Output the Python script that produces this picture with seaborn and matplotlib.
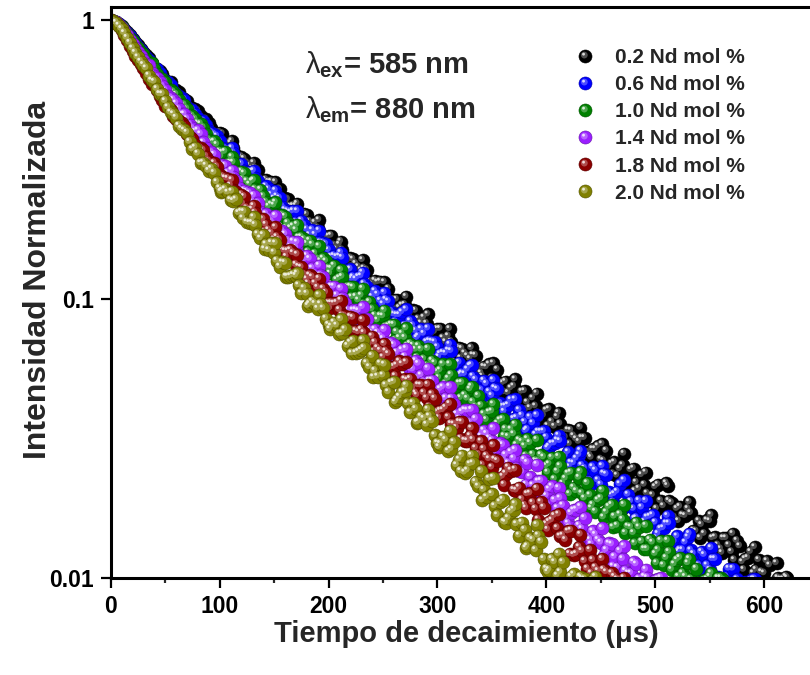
import matplotlib
matplotlib.use("Agg")
import numpy as np
import pandas as pd
import matplotlib.pyplot as plt
import matplotlib.colors as mcolors
import seaborn as sns
from matplotlib.path import Path
from matplotlib.lines import Line2D
from matplotlib.legend_handler import HandlerTuple
from matplotlib.ticker import MultipleLocator, NullLocator

# ---------------- data ----------------
# samples on the full-step grid
time_us = [0, 5, 10, 15, 20, 25, 30, 35, 40, 45, 50, 55, 60, 65, 70, 75, 80, 85, 90, 95,
           100, 105, 110, 115, 120, 125, 130, 135, 140, 145, 150, 155, 160, 165, 170, 175,
           180, 185, 190, 195, 200, 205, 210, 215, 220, 225, 230, 235, 240, 245, 250, 255,
           260, 265, 270, 275, 280, 285, 290, 295, 300, 305, 310, 315, 320, 325, 330, 335,
           340, 345, 350, 355, 360, 365, 370, 375, 380, 385, 390, 395, 400, 405, 410, 415,
           420, 425, 430, 435, 440, 445, 450, 455, 460, 465, 470, 475, 480, 485, 490, 495,
           500, 505, 510, 515, 520, 525, 530, 535, 540, 545, 550, 555, 560, 565, 570, 575,
           580, 585, 590, 595, 600, 605, 610, 615, 620, 625]
# samples on the half-step grid
time_half_us = [2.5, 7.5, 12.5, 17.5, 22.5, 27.5, 32.5, 37.5, 42.5, 47.5, 52.5, 57.5, 62.5,
                67.5, 72.5, 77.5, 82.5, 87.5, 92.5, 97.5, 102.5, 107.5, 112.5, 117.5, 122.5,
                127.5, 132.5, 137.5, 142.5, 147.5, 152.5, 157.5, 162.5, 167.5, 172.5, 177.5,
                182.5, 187.5, 192.5, 197.5, 202.5, 207.5, 212.5, 217.5, 222.5, 227.5, 232.5,
                237.5, 242.5, 247.5, 252.5, 257.5, 262.5, 267.5, 272.5, 277.5, 282.5, 287.5,
                292.5, 297.5, 302.5, 307.5, 312.5, 317.5, 322.5, 327.5, 332.5, 337.5, 342.5,
                347.5, 352.5, 357.5, 362.5, 367.5, 372.5, 377.5, 382.5, 387.5, 392.5, 397.5,
                402.5, 407.5, 412.5, 417.5, 422.5, 427.5, 432.5, 437.5, 442.5, 447.5, 452.5,
                457.5, 462.5, 467.5, 472.5, 477.5, 482.5, 487.5, 492.5, 497.5, 502.5, 507.5,
                512.5, 517.5, 522.5, 527.5, 532.5, 537.5, 542.5, 547.5, 552.5, 557.5, 562.5,
                567.5, 572.5, 577.5, 582.5, 587.5, 592.5, 597.5, 602.5, 607.5, 612.5, 617.5,
                622.5]
# scattered (outer) samples of the noisy tail
time_spread_us = [101.25, 111.25, 121.25, 131.25, 141.25, 151.25, 161.25, 171.25, 181.25,
                  191.25, 201.25, 211.25, 221.25, 231.25, 241.25, 251.25, 261.25, 271.25,
                  281.25, 291.25, 301.25, 311.25, 321.25, 331.25, 341.25, 351.25, 361.25,
                  371.25, 381.25, 391.25, 401.25, 411.25, 421.25, 431.25, 441.25, 451.25,
                  461.25, 471.25, 481.25, 491.25, 501.25, 511.25, 521.25, 531.25, 541.25,
                  551.25, 561.25, 571.25, 581.25, 591.25, 601.25, 611.25, 621.25]

series_labels = ["0.2 Nd mol %", "0.6 Nd mol %", "1.0 Nd mol %",
                 "1.4 Nd mol %", "1.8 Nd mol %", "2.0 Nd mol %"]
series_colors = ["#000000", "#0000FF", "#008000", "#9A1EFF", "#8B0000", "#808000"]

nd_02 = [1.0, 0.989, 0.955, 0.912, 0.861, 0.814, 0.769, 0.733, 0.678, 0.656, 0.611, 0.600,
         0.561, 0.528, 0.516, 0.485, 0.474, 0.441, 0.427, 0.399, 0.396, 0.366, 0.363, 0.329,
         0.324, 0.308, 0.294, 0.291, 0.264, 0.2637, 0.246, 0.248, 0.230, 0.215, 0.216, 0.200,
         0.201, 0.183, 0.180, 0.166, 0.168, 0.156, 0.157, 0.141, 0.1405, 0.134, 0.127, 0.1272,
         0.113, 0.115, 0.106, 0.109, 0.0995, 0.0931, 0.0955, 0.0886, 0.0909, 0.0820, 0.0818,
         0.0751, 0.0782, 0.0725, 0.0737, 0.0664, 0.0669, 0.0640, 0.0610, 0.0628, 0.0543,
         0.0570, 0.0521, 0.0559, 0.0500, 0.0461, 0.0487, 0.0442, 0.0468, 0.0407, 0.0413,
         0.0370, 0.0399, 0.0363, 0.0378, 0.0329, 0.0339, 0.0323, 0.0308, 0.0318, 0.0275,
         0.0290, 0.0266, 0.0286, 0.0257, 0.0233, 0.0254, 0.0226, 0.0247, 0.0209, 0.0216,
         0.0189, 0.0212, 0.0189, 0.0219, 0.0186, 0.0177, 0.0168, 0.0177, 0.0148, 0.0160,
         0.0144, 0.0160, 0.0140, 0.0127, 0.0139, 0.0124, 0.0136, 0.0114, 0.0118, 0.0104,
         0.0116, 0.0104, 0.0111, 0.0094, 0.0099, 0.0101]
nd_02_half = [0.995, 0.975, 0.935, 0.887, 0.837, 0.792, 0.752, 0.705, 0.672, 0.645, 0.598,
              0.568, 0.552, 0.524, 0.491, 0.483, 0.454, 0.442, 0.412, 0.393, 0.392, 0.354,
              0.348, 0.320, 0.319, 0.301, 0.295, 0.270, 0.268, 0.264, 0.242, 0.230, 0.228,
              0.216, 0.200, 0.203, 0.190, 0.188, 0.173, 0.167, 0.169, 0.151, 0.150, 0.137,
              0.139, 0.1305, 0.129, 0.116, 0.1165, 0.1157, 0.1045, 0.0989, 0.0997, 0.0950,
              0.0877, 0.0912, 0.0849, 0.0859, 0.0782, 0.0763, 0.0783, 0.0702, 0.0704, 0.0647,
              0.0664, 0.0625, 0.0630, 0.0556, 0.0572, 0.0584, 0.0516, 0.0489, 0.0506, 0.0479,
              0.0432, 0.0466, 0.0426, 0.0441, 0.0390, 0.0382, 0.0403, 0.0349, 0.0357, 0.0319,
              0.0338, 0.0315, 0.0318, 0.0282, 0.0290, 0.0297, 0.0263, 0.0250, 0.0260, 0.0246,
              0.0218, 0.0244, 0.0220, 0.0234, 0.0201, 0.0198, 0.0216, 0.0181, 0.0189, 0.0165,
              0.0180, 0.0167, 0.0171, 0.0147, 0.0155, 0.0161, 0.0139, 0.0131, 0.0139, 0.0131,
              0.0116, 0.0130, 0.0117, 0.0124, 0.0107, 0.0105, 0.0115, 0.0096, 0.0100, 0.0099]
nd_02_spread = [0.366, 0.369, 0.307, 0.308, 0.258, 0.263, 0.219, 0.220, 0.181, 0.192, 0.155,
                0.161, 0.1304, 0.1382, 0.1107, 0.1151, 0.0915, 0.1020, 0.0811, 0.0882, 0.0701,
                0.0782, 0.0614, 0.0668, 0.0529, 0.0589, 0.0464, 0.0516, 0.0401, 0.0459,
                0.0351, 0.0391, 0.0302, 0.0346, 0.0270, 0.0302, 0.0236, 0.0279, 0.0205,
                0.0239, 0.0177, 0.0214, 0.0160, 0.0187, 0.0139, 0.0168, 0.0123, 0.0144,
                0.0107, 0.0129, 0.0096, 0.0113, 0.0100]

nd_06 = [1.0, 0.986, 0.951, 0.904, 0.851, 0.805, 0.767, 0.720, 0.671, 0.650, 0.605, 0.589,
         0.545, 0.525, 0.489, 0.479, 0.448, 0.435, 0.402, 0.390, 0.368, 0.347, 0.340, 0.306,
         0.3055, 0.285, 0.287, 0.265, 0.247, 0.248, 0.230, 0.2301, 0.209, 0.205, 0.189, 0.191,
         0.178, 0.177, 0.160, 0.159, 0.150, 0.143, 0.1426, 0.127, 0.128, 0.118, 0.121, 0.111,
         0.102, 0.104, 0.0960, 0.0982, 0.0883, 0.0878, 0.0804, 0.0834, 0.0770, 0.0781,
         0.0702, 0.0705, 0.0673, 0.0642, 0.0655, 0.0565, 0.0592, 0.0539, 0.0576, 0.0514,
         0.0472, 0.0497, 0.0450, 0.0475, 0.0412, 0.0417, 0.0372, 0.0400, 0.0362, 0.0377,
         0.0327, 0.0335, 0.0319, 0.0303, 0.0312, 0.0269, 0.0283, 0.0258, 0.0276, 0.0247,
         0.0223, 0.0243, 0.0216, 0.0235, 0.0198, 0.0204, 0.0178, 0.0199, 0.0177, 0.0189,
         0.0159, 0.0166, 0.0158, 0.0150, 0.0157, 0.0131, 0.0141, 0.0126, 0.0140, 0.0122,
         0.0111, 0.0121, 0.0107, 0.0117, 0.0098, 0.0101, 0.0088, 0.0099, 0.0087, 0.0094,
         0.0099]
nd_06_half = [0.993, 0.968, 0.927, 0.877, 0.828, 0.783, 0.741, 0.688, 0.670, 0.624, 0.603,
              0.560, 0.534, 0.520, 0.480, 0.463, 0.432, 0.421, 0.396, 0.384, 0.349, 0.342,
              0.335, 0.305, 0.289, 0.2865, 0.272, 0.251, 0.254, 0.237, 0.234, 0.2145, 0.207,
              0.2072, 0.1875, 0.1845, 0.170, 0.1703, 0.160, 0.1575, 0.142, 0.1418, 0.141,
              0.127, 0.120, 0.1202, 0.1135, 0.1038, 0.1069, 0.0987, 0.0996, 0.0903, 0.0878,
              0.0898, 0.0804, 0.0803, 0.0736, 0.0752, 0.0708, 0.0701, 0.0636, 0.0639, 0.0652,
              0.0574, 0.0542, 0.0560, 0.0528, 0.0474, 0.0510, 0.0465, 0.0480, 0.0423, 0.0413,
              0.0435, 0.0375, 0.0382, 0.0341, 0.0359, 0.0335, 0.0336, 0.0296, 0.0304, 0.0310,
              0.0274, 0.0259, 0.0268, 0.0253, 0.0223, 0.0250, 0.0224, 0.0237, 0.0203, 0.0200,
              0.0217, 0.0181, 0.0188, 0.0164, 0.0179, 0.0165, 0.0168, 0.0144, 0.0151, 0.0157,
              0.0135, 0.0126, 0.0134, 0.01256, 0.0111, 0.0124, 0.0111, 0.0117, 0.0101, 0.0099,
              0.0108, 0.0090, 0.0093, 0.0097, 0.0098]
nd_06_spread = [0.347, 0.348, 0.289, 0.2885, 0.241, 0.245, 0.203, 0.207, 0.166, 0.176,
                0.1416, 0.1467, 0.1181, 0.1247, 0.0995, 0.1054, 0.0829, 0.0919, 0.0726,
                0.0785, 0.0620, 0.0687, 0.0536, 0.0580, 0.0451, 0.0512, 0.0395, 0.0437,
                0.0337, 0.0383, 0.0292, 0.0324, 0.0250, 0.0286, 0.0217, 0.0252, 0.0187,
                0.0224, 0.0163, 0.0189, 0.0139, 0.0167, 0.0124, 0.0144, 0.0107, 0.0128,
                0.0093, 0.0108, 0.0095, 0.0099]

nd_10 = [1.0, 0.986, 0.946, 0.895, 0.841, 0.794, 0.755, 0.700, 0.669, 0.619, 0.602, 0.561,
         0.542, 0.499, 0.481, 0.453, 0.428, 0.412, 0.373, 0.368, 0.339, 0.338, 0.309, 0.288,
         0.287, 0.265, 0.2647, 0.239, 0.234, 0.215, 0.217, 0.200, 0.198, 0.180, 0.177, 0.167,
         0.158, 0.157, 0.139, 0.140, 0.129, 0.132, 0.119, 0.110, 0.111, 0.102, 0.103, 0.0927,
         0.0920, 0.0840, 0.0869, 0.0801, 0.0810, 0.0726, 0.0727, 0.0692, 0.0659, 0.0660,
         0.0577, 0.0602, 0.0548, 0.0584, 0.0519, 0.0476, 0.0500, 0.0452, 0.0475, 0.0411,
         0.0415, 0.0369, 0.0396, 0.0358, 0.0371, 0.0321, 0.0328, 0.0312, 0.0297, 0.0305,
         0.0263, 0.0276, 0.0252, 0.0270, 0.0241, 0.0218, 0.0237, 0.0211, 0.0229, 0.0193,
         0.0198, 0.0173, 0.0193, 0.0172, 0.0183, 0.0154, 0.0162, 0.0153, 0.0145, 0.0152,
         0.0127, 0.0137, 0.0122, 0.0136, 0.0118, 0.0107, 0.0116, 0.0104, 0.0113, 0.0095,
         0.0097, 0.0098, 0.0101, 0.0096, 0.0100]
nd_10_half = [0.993, 0.966, 0.920, 0.868, 0.818, 0.772, 0.727, 0.701, 0.642, 0.615, 0.570,
              0.553, 0.519, 0.497, 0.459, 0.442, 0.425, 0.390, 0.366, 0.358, 0.336, 0.307,
              0.3093, 0.287, 0.283, 0.258, 0.248, 0.247, 0.223, 0.2187, 0.2007, 0.2001,
              0.1876, 0.1827, 0.1665, 0.1638, 0.1622, 0.1457, 0.1370, 0.1368, 0.1287, 0.1172,
              0.1203, 0.1105, 0.1103, 0.0991, 0.0959, 0.0978, 0.0873, 0.0871, 0.0795, 0.0811,
              0.0762, 0.0752, 0.0681, 0.0682, 0.0679, 0.0609, 0.0573, 0.0590, 0.0556, 0.0498,
              0.0535, 0.0486, 0.0501, 0.0440, 0.0428, 0.0450, 0.0387, 0.0393, 0.0350, 0.0368,
              0.0342, 0.0341, 0.0300, 0.0308, 0.0315, 0.0277, 0.0262, 0.0271, 0.0256, 0.0226,
              0.0252, 0.0227, 0.0239, 0.0205, 0.0201, 0.0219, 0.0183, 0.0190, 0.0165, 0.0180,
              0.0166, 0.0169, 0.0145, 0.0152, 0.0158, 0.0135, 0.0127, 0.0134, 0.0126, 0.0111,
              0.0124, 0.0112, 0.0118, 0.0101, 0.0099, 0.0108, 0.0096, 0.0099, 0.0097, 0.0100,
              0.0098]
nd_10_spread = [0.325, 0.3235, 0.269, 0.267, 0.221, 0.2225, 0.180, 0.185, 0.1477, 0.1548,
                0.1237, 0.1271, 0.1016, 0.1091, 0.0847, 0.0911, 0.0713, 0.0786, 0.0617,
                0.0664, 0.0522, 0.0584, 0.0442, 0.0486, 0.0372, 0.0420, 0.0323, 0.0355,
                0.0274, 0.0313, 0.0239, 0.0272, 0.0200, 0.0240, 0.0178, 0.0206, 0.0152,
                0.0183, 0.0133, 0.0154, 0.0113, 0.0136, 0.0101, 0.0117, 0.0096, 0.0104,
                0.0097]

nd_14 = [1.0, 0.984, 0.942, 0.885, 0.822, 0.772, 0.723, 0.690, 0.630, 0.601, 0.562, 0.527,
         0.504, 0.460, 0.443, 0.410, 0.403, 0.365, 0.335, 0.330, 0.303, 0.301, 0.272, 0.265,
         0.242, 0.243, 0.224, 0.221, 0.200, 0.196, 0.185, 0.175, 0.171, 0.154, 0.153, 0.141,
         0.143, 0.129, 0.119, 0.120, 0.110, 0.111, 0.0983, 0.0971, 0.0886, 0.0914, 0.0841,
         0.0848, 0.0759, 0.0758, 0.0721, 0.0684, 0.0685, 0.0609, 0.0622, 0.0564, 0.0600,
         0.0533, 0.0487, 0.0511, 0.0460, 0.0483, 0.0417, 0.0420, 0.0373, 0.0400, 0.0360,
         0.0372, 0.0322, 0.0329, 0.0311, 0.0294, 0.0300, 0.0258, 0.0268, 0.0243, 0.0265,
         0.0230, 0.0206, 0.0223, 0.0197, 0.0213, 0.0178, 0.0182, 0.0157, 0.0175, 0.0154,
         0.0164, 0.0137, 0.0143, 0.0134, 0.0126, 0.0132, 0.0109, 0.0117, 0.0104, 0.0114,
         0.0099, 0.0101, 0.0096, 0.0098, 0.0100]
nd_14_half = [0.993, 0.964, 0.914, 0.853, 0.797, 0.748, 0.697, 0.650, 0.622, 0.580, 0.535,
              0.519, 0.481, 0.461, 0.423, 0.399, 0.391, 0.348, 0.336, 0.305, 0.303, 0.2835,
              0.275, 0.250, 0.2453, 0.2397, 0.2180, 0.2050, 0.2018, 0.1899, 0.1744, 0.1752,
              0.1621, 0.1610, 0.1442, 0.1383, 0.1396, 0.1234, 0.1217, 0.1100, 0.1110, 0.1031,
              0.1010, 0.0913, 0.0912, 0.0907, 0.0819, 0.0775, 0.0778, 0.0736, 0.0674, 0.0696,
              0.0643, 0.0657, 0.0576, 0.0560, 0.0587, 0.0504, 0.0510, 0.0454, 0.0476, 0.0441,
              0.0440, 0.0387, 0.0394, 0.0399, 0.0350, 0.0329, 0.0338, 0.0317, 0.0284, 0.0304,
              0.0276, 0.0283, 0.0249, 0.0240, 0.0259, 0.0215, 0.0222, 0.0192, 0.0208, 0.0190,
              0.0193, 0.0164, 0.0171, 0.0176, 0.0150, 0.0140, 0.0147, 0.0137, 0.0120, 0.0133,
              0.0119, 0.0125, 0.0106, 0.0104, 0.0112, 0.0097, 0.0100, 0.0097, 0.0099]
nd_14_spread = [0.289, 0.2895, 0.2385, 0.2353, 0.194, 0.199, 0.1564, 0.1598, 0.1266, 0.1319,
                0.1048, 0.1091, 0.0853, 0.0937, 0.0724, 0.0776, 0.0605, 0.0664, 0.0519,
                0.0564, 0.0431, 0.0485, 0.0366, 0.0401, 0.0305, 0.0344, 0.0263, 0.0288,
                0.0216, 0.0255, 0.0183, 0.0210, 0.0152, 0.0180, 0.0132, 0.0151, 0.0110,
                0.0130, 0.0094, 0.0107, 0.0098]

nd_18 = [1.0, 0.977, 0.923, 0.851, 0.776, 0.722, 0.675, 0.618, 0.590, 0.538, 0.494, 0.478,
         0.443, 0.429, 0.390, 0.377, 0.343, 0.342, 0.313, 0.308, 0.278, 0.272, 0.256, 0.242,
         0.237, 0.212, 0.210, 0.194, 0.1935, 0.177, 0.164, 0.163, 0.149, 0.150, 0.133, 0.130,
         0.118, 0.120, 0.110, 0.109, 0.0968, 0.0966, 0.0915, 0.0868, 0.0865, 0.0769, 0.0777,
         0.0717, 0.0735, 0.0668, 0.0619, 0.0636, 0.0572, 0.0598, 0.0516, 0.0518, 0.0460,
         0.0491, 0.0441, 0.0456, 0.0393, 0.0400, 0.0377, 0.0356, 0.0363, 0.0311, 0.0323,
         0.0292, 0.0309, 0.0274, 0.0249, 0.0263, 0.0231, 0.0249, 0.0207, 0.0211, 0.0182,
         0.0201, 0.0177, 0.0187, 0.0156, 0.0161, 0.0151, 0.0142, 0.0147, 0.0121, 0.0129,
         0.0115, 0.0126, 0.0109, 0.0097, 0.0105, 0.0104, 0.0099, 0.0097]
nd_18_half = [0.991, 0.953, 0.887, 0.813, 0.748, 0.696, 0.649, 0.592, 0.563, 0.519, 0.491,
              0.453, 0.435, 0.417, 0.382, 0.356, 0.348, 0.325, 0.298, 0.2985, 0.2755, 0.2707,
              0.2456, 0.2347, 0.2330, 0.2092, 0.2041, 0.1865, 0.1851, 0.1726, 0.1672, 0.1504,
              0.1488, 0.1465, 0.1309, 0.1226, 0.1218, 0.1140, 0.1033, 0.1055, 0.0969, 0.0971,
              0.0875, 0.0845, 0.0858, 0.0762, 0.0757, 0.0688, 0.0699, 0.0654, 0.0650, 0.0569,
              0.0579, 0.0585, 0.0512, 0.0480, 0.0492, 0.0461, 0.0411, 0.0440, 0.0398, 0.0408,
              0.0357, 0.0346, 0.0362, 0.0310, 0.0313, 0.0277, 0.0290, 0.0267, 0.0266, 0.0228,
              0.0237, 0.0243, 0.0206, 0.0191, 0.0200, 0.0186, 0.0162, 0.0179, 0.0159, 0.0167,
              0.0141, 0.0137, 0.0148, 0.0122, 0.0125, 0.0108, 0.0116, 0.0106, 0.0107, 0.0096,
              0.0101, 0.0098]
nd_18_spread = [0.268, 0.2675, 0.2198, 0.216, 0.1745, 0.1811, 0.1420, 0.1446, 0.1141, 0.1184,
                0.0927, 0.0989, 0.0771, 0.0842, 0.0648, 0.0691, 0.0530, 0.0594, 0.0452,
                0.0493, 0.0375, 0.0421, 0.0316, 0.0344, 0.0254, 0.0299, 0.0216, 0.0245,
                0.0178, 0.0209, 0.0149, 0.0169, 0.0122, 0.0143, 0.0104, 0.0117, 0.0096,
                0.0100]

nd_20 = [1.0, 0.982, 0.933, 0.867, 0.794, 0.738, 0.693, 0.634, 0.603, 0.545, 0.514, 0.468,
         0.448, 0.409, 0.396, 0.345, 0.333, 0.309, 0.289, 0.284, 0.250, 0.248, 0.227, 0.228,
         0.206, 0.189, 0.188, 0.171, 0.170, 0.150, 0.147, 0.131, 0.135, 0.121, 0.1214, 0.105,
         0.1047, 0.0981, 0.0925, 0.0927, 0.0810, 0.0825, 0.0752, 0.0779, 0.0699, 0.0641,
         0.0657, 0.0590, 0.0626, 0.0528, 0.0533, 0.0464, 0.0505, 0.0447, 0.0467, 0.0393,
         0.0404, 0.0379, 0.0355, 0.0365, 0.0305, 0.0321, 0.0285, 0.0307, 0.0266, 0.0239,
         0.0256, 0.0221, 0.0242, 0.0195, 0.0200, 0.0168, 0.0191, 0.0164, 0.0176, 0.0142,
         0.0149, 0.0139, 0.0126, 0.0135, 0.0108, 0.0117, 0.0102, 0.0114, 0.0096, 0.0103,
         0.0096, 0.0099, 0.0097, 0.0101]
nd_20_half = [0.993, 0.959, 0.902, 0.832, 0.766, 0.712, 0.674, 0.609, 0.568, 0.544, 0.488,
              0.4615, 0.419, 0.4035, 0.367, 0.350, 0.308, 0.3015, 0.294, 0.263, 0.2454,
              0.2415, 0.2252, 0.2040, 0.2057, 0.1879, 0.1848, 0.1653, 0.1574, 0.1591, 0.1374,
              0.1356, 0.1205, 0.1222, 0.1122, 0.1095, 0.0962, 0.0963, 0.0960, 0.0852, 0.0799,
              0.0805, 0.0755, 0.0681, 0.0710, 0.0648, 0.0668, 0.0571, 0.0554, 0.0588, 0.0491,
              0.0501, 0.0436, 0.0463, 0.0423, 0.0424, 0.0363, 0.0373, 0.0380, 0.0325, 0.0303,
              0.0313, 0.0290, 0.0254, 0.0275, 0.0243, 0.0258, 0.0213, 0.0207, 0.0227, 0.0181,
              0.0187, 0.0158, 0.0173, 0.0156, 0.0158, 0.0130, 0.0137, 0.0142, 0.0117, 0.0107,
              0.0114, 0.0105, 0.0093, 0.0101, 0.0097, 0.0100, 0.0096, 0.0098]
nd_20_spread = [0.243, 0.2433, 0.1951, 0.1968, 0.1512, 0.1587, 0.1206, 0.1238, 0.0947,
                0.1033, 0.0781, 0.0847, 0.0639, 0.0713, 0.0525, 0.0583, 0.0427, 0.0490,
                0.0361, 0.0402, 0.0295, 0.0337, 0.0242, 0.0275, 0.0190, 0.0229, 0.0159,
                0.0184, 0.0128, 0.0155, 0.0105, 0.0122, 0.0093, 0.0101]

series_values = [(nd_02, nd_02_half, nd_02_spread), (nd_06, nd_06_half, nd_06_spread),
                 (nd_10, nd_10_half, nd_10_spread), (nd_14, nd_14_half, nd_14_spread),
                 (nd_18, nd_18_half, nd_18_spread), (nd_20, nd_20_half, nd_20_spread)]

# ---------------- style ----------------
sns.set_style("ticks")
plt.rcParams["font.family"] = ["Liberation Sans", "DejaVu Sans"]
plt.rcParams["mathtext.fontset"] = "custom"
plt.rcParams["mathtext.rm"] = "Liberation Sans"
plt.rcParams["mathtext.it"] = "Liberation Sans"
plt.rcParams["mathtext.bf"] = "Liberation Sans:bold"


def mix(c, other, f):
    a = np.array(mcolors.to_rgb(c))
    b = np.array(mcolors.to_rgb(other))
    return tuple(a * (1 - f) + b * f)


def blob(cx, cy, r):
    # unit-normalised marker path (the lone MOVETO fixes the scale to the base circle)
    return Path.make_compound_path(Path([[1.0, 0.0]], [Path.MOVETO]),
                                   Path.circle((cx, cy), r))


mid_marker = blob(-0.18, 0.22, 0.52)
hi_marker = blob(-0.30, 0.36, 0.22)

fig = plt.figure(figsize=(8.1, 6.75), dpi=100)
ax = fig.add_axes([0.1367, 0.1437, 0.8633, 0.8452])
ax.set_yscale("log")

S = 88
for (full, half, spread), col in zip(series_values, series_colors):
    t = time_us[:len(full)] + time_half_us[:len(half)] + time_spread_us[:len(spread)]
    v = full + half + spread
    df = pd.DataFrame({"t": t, "I": v}).sort_values("t")
    edge = mix(col, "black", 0.35)
    sns.scatterplot(data=df, x="t", y="I", ax=ax, color=col, s=S, marker="o",
                    edgecolor=edge, linewidth=0.4, legend=False)
    sns.scatterplot(data=df, x="t", y="I", ax=ax, color=mix(col, "white", 0.30), s=S,
                    marker=mid_marker, edgecolor="none", linewidth=0, legend=False)
    sns.scatterplot(data=df, x="t", y="I", ax=ax, color=mix(col, "white", 0.85), s=S,
                    marker=hi_marker, edgecolor="none", linewidth=0, legend=False)

ax.set_xlim(0, 642)
ax.set_ylim(0.01, 1.113)
ax.xaxis.set_major_locator(MultipleLocator(100))
ax.xaxis.set_minor_locator(MultipleLocator(50))
ax.set_yticks([0.01, 0.1, 1], labels=["0.01", "0.1", "1"])
ax.yaxis.set_minor_locator(NullLocator())
ax.tick_params(which="major", direction="out", length=7.2, width=1.6,
               labelsize=16.5, pad=5, colors="black")
ax.tick_params(which="minor", direction="out", length=3.6, width=1.6)
ax.tick_params(top=False, right=False)
for lab in ax.get_xticklabels() + ax.get_yticklabels():
    lab.set_fontweight("bold")

for side in ["left", "bottom", "top"]:
    ax.spines[side].set_linewidth(2.2)
    ax.spines[side].set_color("black")
ax.spines["right"].set_visible(False)

ax.set_xlabel("Tiempo de decaimiento (μs)", fontsize=21, fontweight="bold")
ax.xaxis.set_label_coords(0.508, -0.073)
ax.set_ylabel("Intensidad Normalizada", fontsize=23, fontweight="bold")
ax.yaxis.set_label_coords(-0.083, 0.522)

ax.text(0.278, 0.885, r"$\lambda_{\mathbf{ex}}$= 585 nm", transform=ax.transAxes,
        fontsize=21, fontweight="bold", ha="left", va="baseline")
ax.text(0.278, 0.806, r"$\lambda_{\mathbf{em}}$= 880 nm", transform=ax.transAxes,
        fontsize=21, fontweight="bold", ha="left", va="baseline")

handles = []
for col in series_colors:
    h0 = Line2D([], [], ls="none", marker="o", ms=9.4, mfc=col,
                mec=mix(col, "black", 0.35), mew=0.4)
    h1 = Line2D([], [], ls="none", marker=mid_marker, ms=9.4,
                mfc=mix(col, "white", 0.30), mec="none")
    h2 = Line2D([], [], ls="none", marker=hi_marker, ms=9.4,
                mfc=mix(col, "white", 0.85), mec="none")
    handles.append((h0, h1, h2))

ax.legend(handles, series_labels, handler_map={tuple: HandlerTuple(ndivide=1, pad=0)},
          loc="upper left", bbox_to_anchor=(574.6 / 810, 1 - 48 / 675),
          bbox_transform=fig.transFigure, frameon=False,
          prop={"weight": "bold", "size": 15}, handlelength=1.0,
          handletextpad=0.94, labelspacing=0.39, borderpad=0, borderaxespad=0)

fig.savefig("out.png", dpi=100)
